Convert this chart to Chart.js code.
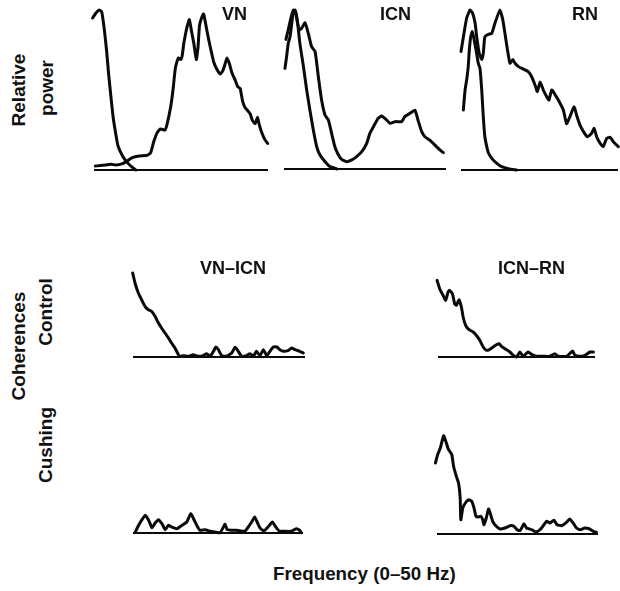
<!DOCTYPE html>
<html>
<head>
<meta charset="utf-8">
<script src="https://cdn.jsdelivr.net/npm/chart.js@4.4.1/dist/chart.umd.min.js"></script>
<style>
  html, body { margin: 0; padding: 0; background: #fff; width: 620px; height: 591px; overflow: hidden; }
  #fig { position: relative; width: 620px; height: 591px; }
  canvas { position: absolute; }
  .lbl { position: absolute; font-family: "Liberation Sans", Arial, sans-serif; font-weight: bold; color: #111; line-height: 1; white-space: nowrap; }
  .rot { transform: translate(-50%, -50%) rotate(-90deg); }
</style>
</head>
<body>
<div id="fig"></div>
<script>
// ---- Data (frequency in Hz, relative value 0..1) ----
const freqRange = [0, 50];

// Relative power spectra
const vnLow  = [[-0.4,0.95],[0.5,0.98],[1.5,1.0],[2.2,0.99],[2.9,0.89],[3.6,0.75],[4.2,0.60],[4.9,0.45],[5.5,0.33],[6.3,0.22],[6.9,0.15],[8.2,0.088],[9.6,0.046],[11.1,0.015],[12,0]];
const vnHigh = [[0.4,0.025],[2.5,0.029],[4.9,0.036],[6.3,0.031],[8.2,0.040],[9.6,0.057],[11.0,0.078],[13.0,0.088],[15.3,0.092],[16.3,0.109],[17.2,0.18],[18.2,0.235],[19.1,0.256],[20.4,0.25],[21.0,0.287],[22.0,0.39],[22.7,0.50],[23.4,0.64],[24.2,0.70],[24.9,0.69],[25.3,0.71],[25.8,0.79],[26.3,0.85],[26.8,0.90],[27.4,0.94],[28.0,0.87],[28.7,0.79],[29.4,0.69],[29.9,0.77],[30.3,0.90],[30.9,0.95],[31.5,0.975],[32.2,0.90],[33.0,0.81],[33.7,0.74],[34.4,0.675],[35.3,0.63],[36.3,0.60],[37.0,0.62],[37.7,0.665],[38.2,0.70],[38.9,0.665],[39.6,0.61],[40.6,0.56],[41.3,0.52],[42.0,0.51],[42.7,0.43],[43.4,0.39],[44.2,0.37],[44.9,0.35],[45.5,0.31],[46.3,0.29],[47.0,0.33],[47.4,0.29],[48.2,0.235],[49.1,0.19],[49.9,0.166]];

const icnLow  = [[0.3,0.633],[0.8,0.706],[1.3,0.79],[1.85,0.83],[2.4,0.916],[2.9,0.99],[3.4,1.0],[4.1,0.937],[4.9,0.79],[6.0,0.644],[7.0,0.497],[8.0,0.37],[9.05,0.245],[10.1,0.14],[11.1,0.088],[12.7,0.046],[14.2,0.015],[16.3,0]];
const icnHigh = [[0.6,0.815],[1.3,0.874],[2.1,0.948],[2.9,1.0],[3.5,0.99],[4.1,0.927],[4.7,0.874],[5.45,0.885],[6.5,0.92],[7.5,0.853],[8.5,0.77],[9.6,0.738],[10.6,0.58],[11.6,0.434],[12.65,0.34],[13.7,0.308],[14.7,0.224],[15.7,0.14],[16.8,0.088],[17.8,0.061],[19.3,0.046],[20.9,0.057],[22.4,0.078],[24.0,0.109],[25.5,0.16],[26.5,0.224],[27.6,0.266],[29.1,0.32],[30.1,0.333],[31.7,0.308],[32.7,0.287],[34.3,0.298],[36.3,0.298],[37.3,0.33],[38.9,0.35],[40.4,0.37],[41.5,0.298],[42.5,0.235],[43.5,0.203],[45.1,0.18],[46.6,0.15],[48.1,0.12],[49.2,0.103]];

const rnLow  = [[0.74,0.375],[1.3,0.5],[1.8,0.5625],[2.3,0.646],[2.65,0.75],[3.1,0.833],[3.6,0.865],[4.1,0.823],[4.8,0.75],[5.5,0.667],[6.05,0.635],[6.6,0.5],[7.1,0.333],[7.6,0.208],[8.2,0.146],[8.7,0.108],[9.8,0.073],[11.4,0.042],[12.95,0.021],[15.1,0.008],[17.7,0]];
const rnHigh = [[0,0.74],[0.74,0.83],[1.8,0.95],[2.9,1.0],[3.7,0.98],[4.5,0.917],[5.0,0.833],[5.8,0.73],[6.6,0.69],[7.1,0.73],[7.6,0.833],[8.7,0.848],[9.8,0.854],[10.8,0.917],[12.4,1.0],[13.3,0.94],[14.0,0.854],[14.8,0.75],[15.6,0.667],[16.5,0.69],[17.2,0.667],[18.3,0.646],[19.9,0.63],[21.4,0.615],[22.5,0.583],[23.6,0.53],[24.3,0.49],[25.2,0.55],[26.2,0.5],[27.3,0.458],[28.0,0.4375],[28.9,0.5],[30.0,0.47],[31.0,0.4375],[32.6,0.375],[33.6,0.29],[34.7,0.333],[36.0,0.396],[36.8,0.344],[37.9,0.28],[39.0,0.24],[40.2,0.208],[41.6,0.229],[42.4,0.26],[43.2,0.208],[44.3,0.167],[45.3,0.146],[46.4,0.198],[47.5,0.204],[48.5,0.177],[50.1,0.146]];

// Coherences
const cohVnIcnControl = [[-1.84,0.823],[-1.36,0.867],[-0.68,0.88],[-0.1,0.84],[0.58,0.74],[1.55,0.64],[2.5,0.573],[3.5,0.507],[4.46,0.473],[5.4,0.457],[6.4,0.407],[7.4,0.34],[8.3,0.29],[9.3,0.24],[10.3,0.19],[11.2,0.14],[12.2,0.09],[13.2,0.023],[13.7,0.007],[14.6,0.013],[16.1,0.007],[17.5,0.023],[19.0,0.007],[20.4,0.013],[21.4,0.033],[22.4,0.007],[23.4,0.057],[24.1,0.1],[24.8,0.073],[25.8,0.013],[27.2,0.007],[28.7,0.04],[29.7,0.097],[30.6,0.057],[31.6,0.007],[33.0,0.013],[34.0,0.033],[35.0,0.007],[35.9,0.057],[36.9,0.013],[37.9,0.073],[38.9,0.013],[39.8,0.057],[40.8,0.1],[41.8,0.1],[42.7,0.073],[43.7,0.057],[45.2,0.067],[46.1,0.09],[47.1,0.073],[48.5,0.057],[49.5,0.04]];
const cohIcnRnControl = [[-2.66,0.84],[-1.8,0.86],[-1.06,0.833],[-0.3,0.767],[0.53,0.683],[1.6,0.617],[2.45,0.567],[3.2,0.65],[3.7,0.667],[4.6,0.633],[5.3,0.533],[5.85,0.517],[6.7,0.573],[7.45,0.5],[8.0,0.4],[8.8,0.317],[9.9,0.273],[11.2,0.25],[12.2,0.217],[13.3,0.167],[14.4,0.1],[15.4,0.067],[16.5,0.077],[17.55,0.1],[18.6,0.123],[19.5,0.133],[20.2,0.107],[21.3,0.083],[22.9,0.05],[23.9,0.017],[25.0,0],[26.1,0.05],[27.1,0.007],[28.7,0.05],[29.8,0.027],[31.4,0.007],[33.5,0.007],[35.6,0.007],[37.2,0.033],[38.3,0.007],[41.0,0.007],[42.9,0.06],[43.6,0.017],[45.2,0.007],[46.8,0.017],[48.4,0.05],[49.5,0.05]];
const cohVnIcnCushing = [[0.68,0.01],[1.66,0.077],[2.64,0.133],[3.6,0.177],[4.6,0.127],[5.6,0.053],[6.5,0.1],[7.5,0.133],[8.5,0.093],[9.5,0.033],[10.4,0.077],[11.4,0.06],[12.9,0.043],[14.4,0.077],[15.8,0.11],[17.0,0.193],[17.8,0.143],[18.75,0.077],[19.7,0.027],[21.2,0.033],[22.7,0.017],[24.1,0.01],[25.6,0.003],[26.6,0.06],[27.05,0.087],[27.7,0.033],[29.0,0.027],[30.5,0.027],[32.9,0.017],[33.9,0.06],[34.9,0.11],[35.8,0.16],[36.5,0.11],[37.3,0.053],[38.5,0.02],[39.7,0.06],[41.0,0.11],[42.0,0.06],[43.0,0.02],[44.6,0.017],[46.6,0.017],[48.0,0.043],[49.0,0.027],[49.5,0.003]];
const cohIcnRnCushing = [[-0.5,0.71],[0.2,0.793],[1.03,0.86],[2.06,0.983],[2.9,0.91],[3.6,0.843],[4.6,0.793],[5.15,0.677],[6.0,0.577],[6.7,0.51],[7.2,0.36],[7.4,0.143],[8.0,0.26],[8.8,0.31],[9.8,0.343],[10.8,0.327],[11.5,0.26],[12.1,0.177],[12.9,0.17],[13.6,0.177],[14.2,0.143],[14.6,0.093],[15.3,0.16],[16.0,0.25],[16.5,0.21],[17.3,0.127],[18.4,0.077],[19.6,0.05],[21.1,0.06],[22.7,0.083],[23.9,0.077],[24.9,0.043],[25.8,0.033],[26.3,0.06],[27.0,0.103],[27.8,0.06],[29.4,0.043],[30.7,0.02],[32.0,0.043],[33.0,0.083],[34.0,0.127],[35.1,0.11],[36.3,0.137],[37.3,0.093],[38.7,0.083],[40.2,0.117],[41.2,0.15],[42.3,0.11],[43.3,0.06],[44.5,0.043],[45.9,0.06],[47.4,0.05],[48.5,0.027],[49.5,0.017]];

// Text
const panelTitles = ["VN", "ICN", "RN", "VN\u2013ICN", "ICN\u2013RN"];
const sideLabels = ["Relative", "power", "Coherences", "Control", "Cushing"];
const xAxisLabel = "Frequency (0\u201350 Hz)";

// ---- Layout ----
const fig = document.getElementById('fig');
const PAD = 12;

function panel(x0, x1, yTop, yBase, curves) {
  const c = document.createElement('canvas');
  const w = x1 - x0 + 2 * PAD, h = yBase - yTop + 2 * PAD;
  c.width = w; c.height = h;
  c.style.left = (x0 - PAD) + 'px';
  c.style.top = (yTop - PAD) + 'px';
  c.style.width = w + 'px'; c.style.height = h + 'px';
  fig.appendChild(c);
  const toPts = arr => arr.map(p => ({ x: p[0], y: p[1] }));
  const datasets = curves.map(arr => ({
    data: toPts(arr), borderColor: '#0a0a0a', borderWidth: 3, pointRadius: 0,
    tension: 0.15, clip: false, borderJoinStyle: 'round', borderCapStyle: 'round'
  }));
  datasets.push({
    data: [{ x: freqRange[0], y: 0 }, { x: freqRange[1], y: 0 }],
    borderColor: '#0a0a0a', borderWidth: 2.2, pointRadius: 0, clip: false
  });
  new Chart(c, {
    type: 'line',
    data: { datasets },
    options: {
      responsive: false, animation: false, devicePixelRatio: 1,
      layout: { padding: PAD },
      plugins: { legend: { display: false }, tooltip: { enabled: false } },
      scales: {
        x: { type: 'linear', min: freqRange[0], max: freqRange[1], display: false },
        y: { type: 'linear', min: 0, max: 1, display: false }
      }
    }
  });
}

panel(94, 268, 10, 170, [vnLow, vnHigh]);
panel(284, 446, 10, 169, [icnLow, icnHigh]);
panel(461, 618, 10, 170, [rnLow, rnHigh]);
panel(133, 305, 257, 357, [cohVnIcnControl]);
panel(438, 595, 257, 357, [cohIcnRnControl]);
panel(133, 303, 433, 533, [cohVnIcnCushing]);
panel(437, 598, 434, 534, [cohIcnRnCushing]);

function label(text, x, y, size, cls) {
  const d = document.createElement('div');
  d.className = 'lbl' + (cls ? ' ' + cls : '');
  d.textContent = text;
  d.style.fontSize = size + 'px';
  d.style.left = x + 'px';
  d.style.top = y + 'px';
  fig.appendChild(d);
}
// panel titles
label(panelTitles[0], 222, 5, 18);
label(panelTitles[1], 380, 5, 18);
label(panelTitles[2], 572, 5, 18);
label(panelTitles[3], 200, 259, 18);
label(panelTitles[4], 498, 259, 18);
// side labels (rotated)
label(sideLabels[0], 18, 90, 19, 'rot');
label(sideLabels[1], 46, 88, 19, 'rot');
label(sideLabels[2], 18, 346, 19, 'rot');
label(sideLabels[3], 45, 312, 19, 'rot');
label(sideLabels[4], 45, 445, 19, 'rot');
// x label
label(xAxisLabel, 273, 565, 18.8);
</script>
</body>
</html>
